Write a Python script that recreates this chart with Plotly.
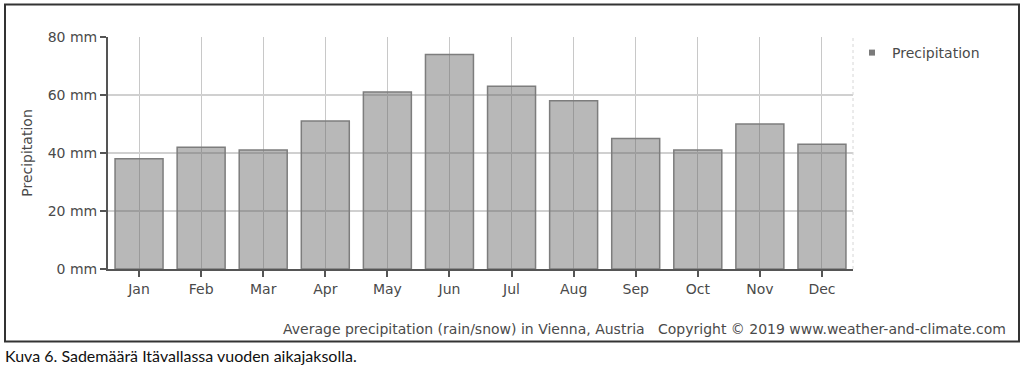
import plotly.graph_objects as go

months = ["Jan", "Feb", "Mar", "Apr", "May", "Jun", "Jul", "Aug", "Sep", "Oct", "Nov", "Dec"]
precip_mm = [38, 42, 41, 51, 61, 74, 63, 58, 45, 41, 50, 43]
y_ticks = [0, 20, 40, 60, 80]
y_tick_labels = ["0 mm", "20 mm", "40 mm", "60 mm", "80 mm"]

W, H = 1024, 369
L, R, T, B = 108, 853, 37.3, 268.6

def px(x):
    return (x - L) / (R - L)

def py(y):
    return (B - y) / (B - T)

chart_font = "DejaVu Sans"
txt_col = "#4a4a4a"
fs = 14

fig = go.Figure()
fig.add_trace(go.Bar(
    x=months, y=precip_mm, name="Precipitation", showlegend=False,
    marker=dict(color="rgba(100,100,100,0.46)", line=dict(color="#7d7d7d", width=1.5)),
))
# legend entry with small square swatch
fig.add_trace(go.Scatter(
    x=[None], y=[None], mode="markers", name="Precipitation",
    marker=dict(symbol="square", size=6, color="#7a7a7a"),
))

fig.update_layout(
    width=W, height=H,
    margin=dict(l=L, r=W - R, t=T, b=H - B, pad=0),
    paper_bgcolor="white", plot_bgcolor="white",
    bargap=0.227,
    font=dict(family=chart_font, size=fs, color=txt_col),
    showlegend=True,
    legend=dict(x=px(852), xanchor="left", y=1.0, yanchor="top",
                itemwidth=30, font=dict(size=fs, color=txt_col),
                bgcolor="rgba(0,0,0,0)"),
    xaxis=dict(
        range=[-0.5, 11.5], showgrid=True, gridcolor="#c8c8c8", gridwidth=1.2,
        showline=True, linecolor="#555555", linewidth=2,
        ticks="outside", ticklen=6, tickcolor="#555555", tickwidth=2,
        tickfont=dict(size=fs, color=txt_col), zeroline=False, fixedrange=True,
    ),
    yaxis=dict(
        range=[0, 80], tickvals=y_ticks, ticktext=y_tick_labels,
        showgrid=True, gridcolor="#d0d0d0", gridwidth=1.5,
        showline=True, linecolor="#555555", linewidth=2,
        ticks="outside", ticklen=6, tickcolor="#555555", tickwidth=2,
        tickfont=dict(size=fs, color=txt_col), zeroline=False, fixedrange=True,
        title=dict(text="Precipitation", font=dict(size=fs, color=txt_col), standoff=12),
    ),
)

# right frame edge of the plot area (faint dotted)
fig.add_shape(type="line", xref="x domain", yref="y domain", x0=1, x1=1, y0=0, y1=1,
              line=dict(color="#d6d6d6", width=1, dash="dot"))
# outer border around the chart
fig.add_shape(type="rect", xref="paper", yref="paper",
              x0=px(5), x1=px(1019), y0=py(341), y1=py(5),
              line=dict(color="#333333", width=2))

fig.add_annotation(
    text="Average precipitation (rain/snow) in Vienna, Austria&nbsp;&nbsp;&nbsp;Copyright © 2019 www.weather-and-climate.com",
    xref="paper", yref="paper", x=px(1008), y=py(328), xanchor="right", yanchor="middle",
    showarrow=False, font=dict(size=fs, color=txt_col, family=chart_font),
)
fig.add_annotation(
    text="Kuva 6. Sademäärä Itävallassa vuoden aikajaksolla.",
    xref="paper", yref="paper", x=px(3), y=py(355), xanchor="left", yanchor="middle",
    showarrow=False, font=dict(size=16, color="#111111", family="Lato"),
)

fig.write_html(
    "out.html",
    config={"displayModeBar": False},
    post_script="document.body.style.margin='0';document.body.style.padding='0';",
)
